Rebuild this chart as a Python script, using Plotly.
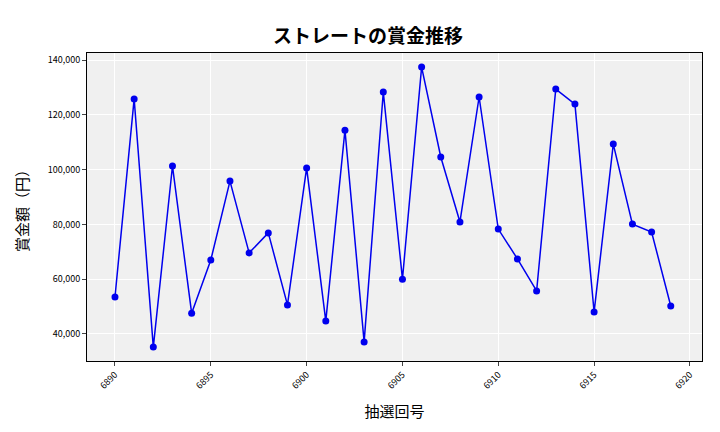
import plotly.graph_objects as go

draws = list(range(6890, 6920))
prizes = [53500,125800,35200,101300,47600,67000,95800,69600,76900,50600,
          100600,44700,114400,37100,128300,60000,137400,104600,80900,126500,
          78300,67400,55700,129400,123900,48000,109300,80100,77200,50200]

font = "Noto Sans CJK JP"
fig = go.Figure(go.Scatter(x=draws, y=prizes, mode="lines+markers",
    line=dict(color="#0000ee", width=1.5), marker=dict(color="#0000ee", size=7)))
fig.update_layout(
    width=720, height=432, margin=dict(l=79, r=26, t=45, b=79),
    paper_bgcolor="white", plot_bgcolor="#f0f0f0",
    title=dict(text="<b>ストレートの賞金推移</b>", x=0.5, y=0.95, xanchor="center",
               font=dict(family=font, size=19, color="black")),
    font=dict(family=font, color="black"), showlegend=False)
fig.update_xaxes(range=[6888.54, 6920.63], dtick=5, tickangle=-45,
    tickfont=dict(size=9), gridcolor="white", showline=True, linecolor="black", mirror=True,
    ticks="outside", ticklen=4,
    title=dict(text="抽選回号", font=dict(size=15)))
fig.update_yaxes(range=[30135, 142555], dtick=20000, tickformat=",",
    tickfont=dict(size=9), gridcolor="white", showline=True, linecolor="black", mirror=True,
    ticks="outside", ticklen=4,
    title=dict(text="賞金額（円）", font=dict(size=15)))
fig.write_html("out.html")
